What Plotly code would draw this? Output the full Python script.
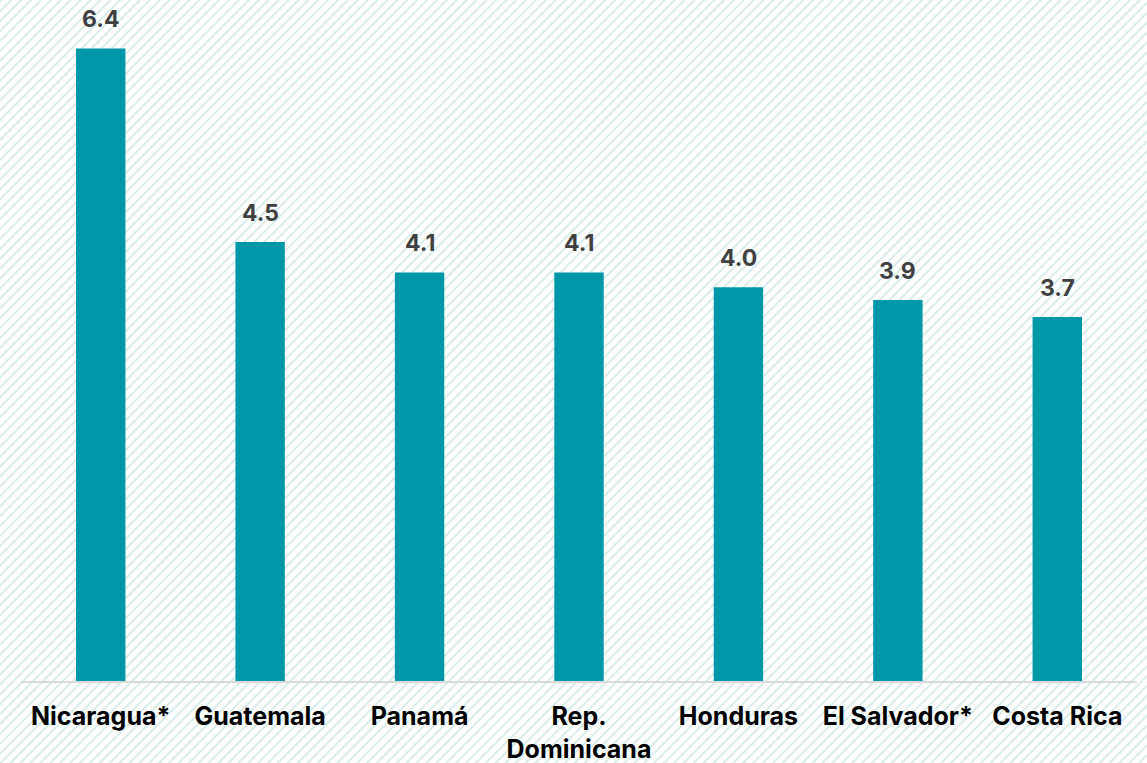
import base64
import plotly.graph_objects as go

categories = ["Nicaragua*", "Guatemala", "Panamá", "Rep.<br>Dominicana", "Honduras", "El Salvador*", "Costa Rica"]
values = [6.41, 4.45, 4.14, 4.14, 3.99, 3.86, 3.69]

W, H = 1147, 763
ml, mr, mt, mb = 21, 10, 10, 82
pw, ph = W - ml - mr, H - mt - mb

svg = (
    f"<svg xmlns='http://www.w3.org/2000/svg' width='{W}' height='{H}'>"
    "<defs><pattern id='p' width='7' height='7' patternUnits='userSpaceOnUse' patternTransform='rotate(45)'>"
    "<line x1='1' y1='0' x2='1' y2='7' stroke='#cfe8e5' stroke-width='1.6'/></pattern></defs>"
    "<rect width='100%' height='100%' fill='white'/>"
    "<rect width='100%' height='100%' fill='url(#p)'/></svg>"
)
src = "data:image/svg+xml;base64," + base64.b64encode(svg.encode()).decode()

fig = go.Figure(go.Bar(
    x=categories, y=values,
    marker=dict(color="#0098A9", line=dict(width=0)),
    hoverinfo="x+y",
))

for c, v in zip(categories, values):
    fig.add_annotation(x=c, y=v, text=f"{v:.1f}", showarrow=False,
                       yanchor="bottom", yshift=13,
                       font=dict(family="Inter", size=23, color="#404040", weight="bold"))

fig.update_layout(
    width=W, height=H,
    margin=dict(l=ml, r=mr, t=mt, b=mb, autoexpand=False),
    paper_bgcolor="white", plot_bgcolor="rgba(0,0,0,0)",
    bargap=0.69, showlegend=False,
    images=[dict(source=src, xref="paper", yref="paper",
                 x=-ml / pw, y=1 + mt / ph, sizex=W / pw, sizey=H / ph,
                 sizing="stretch", layer="below", xanchor="left", yanchor="top")],
)
fig.update_xaxes(showline=True, linecolor="#d9d9d9", linewidth=2, ticks="",
                 tickfont=dict(family="Inter", size=25, color="black", weight="bold"),
                 ticklabelstandoff=12,
                 showgrid=False, automargin=False)
fig.update_yaxes(range=[0, 6.8], visible=False, showgrid=False)

fig.write_html("out.html", config={"displayModeBar": False},
               post_script="document.body.style.margin='0';")
